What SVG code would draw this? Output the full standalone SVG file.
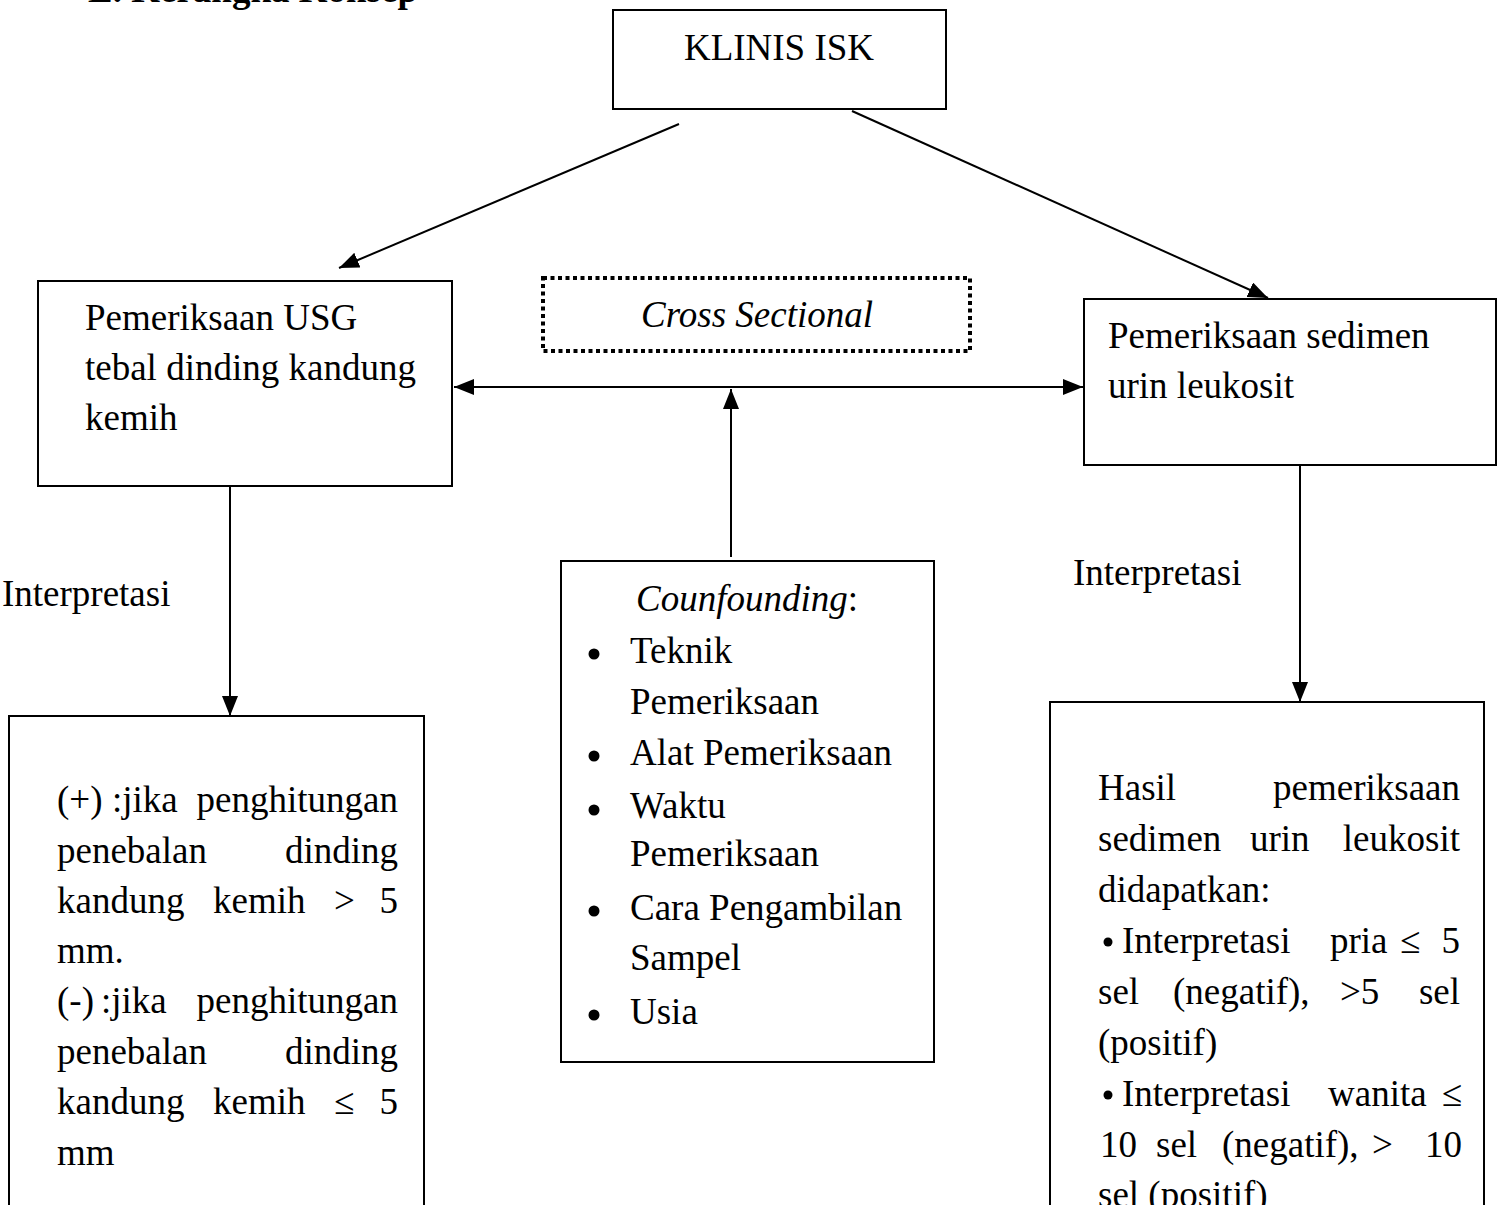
<svg xmlns="http://www.w3.org/2000/svg" width="1498" height="1205" viewBox="0 0 1498 1205">
<style>
  .box { fill: #fff; stroke: #000; stroke-width: 2; }
  .dot { fill: none; stroke: #000; stroke-width: 4; stroke-dasharray: 4 3.5; }
  .t { font-family: "Liberation Serif", "Times New Roman", serif; font-size: 37px; fill: #000; }
  .i { font-style: italic; }
  .e { text-anchor: end; }
  .c { text-anchor: middle; }
  .conn { stroke: #000; stroke-width: 2; fill: none; }
</style>
<defs>
  <marker id="ah" markerUnits="userSpaceOnUse" markerWidth="22" markerHeight="18" refX="20" refY="8" orient="auto-start-reverse">
    <path d="M0,0 L20,8 L0,16 z" fill="#000"/>
  </marker>
</defs>
<rect width="1498" height="1205" fill="#fff"/>

<text class="t" x="88" y="2" font-weight="bold" font-size="29">E. Kerangka Konsep</text>

<g id="connectors">
  <line class="conn" x1="679" y1="124" x2="339" y2="268" marker-end="url(#ah)"/>
  <line class="conn" x1="852" y1="111" x2="1268" y2="298" marker-end="url(#ah)"/>
  <line class="conn" x1="454" y1="387" x2="1083" y2="387" marker-start="url(#ah)" marker-end="url(#ah)"/>
  <line class="conn" x1="731" y1="557" x2="731" y2="389" marker-end="url(#ah)"/>
  <line class="conn" x1="230" y1="486" x2="230" y2="716" marker-end="url(#ah)"/>
  <line class="conn" x1="1300" y1="465" x2="1300" y2="702" marker-end="url(#ah)"/>
  <text class="t" x="2" y="606">Interpretasi</text>
  <text class="t" x="1073" y="585">Interpretasi</text>
</g>

<g id="klinis">
  <rect class="box" x="613" y="10" width="333" height="99"/>
  <text class="t c" x="779" y="60">KLINIS ISK</text>
</g>

<g id="usg">
  <rect class="box" x="38" y="281" width="414" height="205"/>
  <text class="t" x="85" y="330" font-size="38">Pemeriksaan USG</text>
  <text class="t" x="85" y="380" font-size="38">tebal dinding kandung</text>
  <text class="t" x="85" y="430" font-size="38">kemih</text>
</g>

<g id="cross">
  <rect class="dot" x="543" y="278" width="427" height="73"/>
  <text class="t i c" x="757" y="327">Cross Sectional</text>
</g>

<g id="sedimen">
  <rect class="box" x="1084" y="299" width="412" height="166"/>
  <text class="t" x="1108" y="348">Pemeriksaan sedimen</text>
  <text class="t" x="1108" y="398">urin leukosit</text>
</g>

<g id="confounding">
  <rect class="box" x="561" y="561" width="373" height="501"/>
  <text class="t" x="636" y="611"><tspan class="i">Counfounding</tspan>:</text>
  <circle cx="594" cy="654" r="5.5"/>
  <text class="t" x="630" y="663">Teknik</text>
  <text class="t" x="630" y="714">Pemeriksaan</text>
  <circle cx="594" cy="756" r="5.5"/>
  <text class="t" x="630" y="765">Alat Pemeriksaan</text>
  <circle cx="594" cy="810" r="5.5"/>
  <text class="t" x="630" y="818">Waktu</text>
  <text class="t" x="630" y="866">Pemeriksaan</text>
  <circle cx="594" cy="911" r="5.5"/>
  <text class="t" x="630" y="920">Cara Pengambilan</text>
  <text class="t" x="630" y="970">Sampel</text>
  <circle cx="594" cy="1015" r="5.5"/>
  <text class="t" x="630" y="1024">Usia</text>
</g>

<g id="hasil-usg">
  <rect class="box" x="9" y="716" width="415" height="520"/>
  <text class="t" x="57" y="812">(+)</text>
  <text class="t" x="112" y="812">:jika</text>
  <text class="t e" x="398" y="812">penghitungan</text>
  <text class="t" x="57" y="863">penebalan</text>
  <text class="t e" x="398" y="863">dinding</text>
  <text class="t" x="57" y="913">kandung</text>
  <text class="t" x="213" y="913">kemih</text>
  <text class="t" x="334" y="913">&gt;</text>
  <text class="t e" x="398" y="913">5</text>
  <text class="t" x="57" y="963">mm.</text>
  <text class="t" x="57" y="1013">(-)</text>
  <text class="t" x="101" y="1013">:jika</text>
  <text class="t e" x="398" y="1013">penghitungan</text>
  <text class="t" x="57" y="1064">penebalan</text>
  <text class="t e" x="398" y="1064">dinding</text>
  <text class="t" x="57" y="1114">kandung</text>
  <text class="t" x="213" y="1114">kemih</text>
  <text class="t" x="334" y="1114">≤</text>
  <text class="t e" x="398" y="1114">5</text>
  <text class="t" x="57" y="1165">mm</text>
</g>

<g id="hasil-sedimen">
  <rect class="box" x="1050" y="702" width="434" height="530"/>
  <text class="t" x="1098" y="800">Hasil</text>
  <text class="t e" x="1460" y="800">pemeriksaan</text>
  <text class="t" x="1098" y="851">sedimen</text>
  <text class="t" x="1250" y="851">urin</text>
  <text class="t e" x="1460" y="851">leukosit</text>
  <text class="t" x="1098" y="902">didapatkan:</text>
  <circle cx="1108" cy="942" r="4.5"/>
  <text class="t" x="1122" y="953">Interpretasi</text>
  <text class="t" x="1330" y="953">pria</text>
  <text class="t" x="1400" y="953">≤</text>
  <text class="t e" x="1460" y="953">5</text>
  <text class="t" x="1098" y="1004">sel</text>
  <text class="t" x="1173" y="1004">(negatif),</text>
  <text class="t" x="1340" y="1004">&gt;5</text>
  <text class="t e" x="1460" y="1004">sel</text>
  <text class="t" x="1098" y="1055">(positif)</text>
  <circle cx="1108" cy="1095" r="4.5"/>
  <text class="t" x="1122" y="1106">Interpretasi</text>
  <text class="t" x="1328" y="1106">wanita</text>
  <text class="t e" x="1462" y="1106">≤</text>
  <text class="t" x="1100" y="1157">10</text>
  <text class="t" x="1156" y="1157">sel</text>
  <text class="t" x="1222" y="1157">(negatif),</text>
  <text class="t" x="1372" y="1157">&gt;</text>
  <text class="t e" x="1462" y="1157">10</text>
  <text class="t" x="1098" y="1207">sel (positif)</text>
</g>
</svg>
